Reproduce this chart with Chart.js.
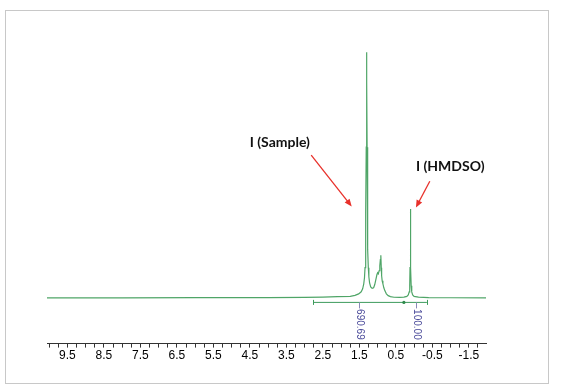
<!DOCTYPE html>
<html>
<head>
<meta charset="utf-8">
<script src="https://cdn.jsdelivr.net/npm/chart.js@4/dist/chart.umd.min.js"></script>
<style>
  html, body { margin: 0; padding: 0; background: #fff; }
  #frame { position: absolute; left: 5px; top: 10px; width: 542px; height: 372px; border: 1px solid #c8c8c8; }
  #wrap { position: absolute; left: 0; top: 0; width: 565px; height: 388px; }
</style>
</head>
<body>
<div id="frame"></div>
<div id="wrap"><canvas id="chart_nmr" width="565" height="388"></canvas></div>
<script>
// chemical shift (ppm) and intensity
const shifts = [10.06, 8.0, 6.0, 4.0, 3.0, 2.5, 2.1, 1.75, 1.62, 1.52, 1.45, 1.41, 1.38, 1.36, 1.345, 1.332, 1.322, 1.312, 1.304,
    1.300, 1.296, 1.288, 1.278, 1.268, 1.255, 1.24, 1.22, 1.19, 1.15, 1.11, 1.08, 1.05, 1.02, 1.0, 0.98, 0.96, 0.94, 0.925,
    0.912, 0.90, 0.89, 0.875, 0.855, 0.83, 0.8, 0.76, 0.71, 0.65, 0.55, 0.4, 0.28, 0.2, 0.16, 0.135, 0.12, 0.112, 0.106,
    0.10, 0.094, 0.088, 0.08, 0.065, 0.04, 0.0, -0.12, -0.4, -1.0, -1.97];
const intensity = [0, 0, 0.2, 0.3, 0.5, 0.8, 1.2, 1.5, 2.5, 4, 6, 9, 14, 20, 30, 48, 85, 150, 215,
    244.5, 215, 150, 85, 48, 30, 21, 15, 11, 9.5, 10, 13, 18, 23, 25, 24, 27, 32, 38,
    42.5, 30, 22, 17, 14, 10, 7, 4, 2.2, 1.2, 0.6, 0.5, 0.8, 1.5, 3, 6, 12, 30, 60,
    88.5, 60, 30, 12, 6, 3, 1.5, 0.7, 0.3, 0.1, 0];

// integral regions
const integralFrom = [2.77, 0.28];
const integralTo = [0.28, -0.35];
const integralAt = [1.51, -0.05];
const integralValues = ['690.69', '100.00'];
const integralLevel = -4.5;

// axis labels
const tickLabels = ['9.5', '8.5', '7.5', '6.5', '5.5', '4.5', '3.5', '2.5', '1.5', '0.5', '-0.5', '-1.5'];

// annotations: text position and arrow (from -> to), in ppm / intensity
const noteTexts = ['I (Sample)', 'I (HMDSO)'];
const noteX = [3.68, -0.99];
const noteY = [154.5, 130.5];
const arrowFrom = [[2.82, 142], [-0.43, 116]];
const arrowTo = [[1.71, 91], [-0.05, 90]];

const spectrum = shifts.map(function (s, i) { return {x: s, y: intensity[i]}; });
const integralLine = [];
integralFrom.forEach(function (f, i) {
    integralLine.push({x: f, y: integralLevel});
    integralLine.push({x: integralTo[i], y: integralLevel});
});

const extras = {
    id: 'extras',
    afterDatasetsDraw: function (chart) {
        const ctx = chart.ctx;
        const xs = chart.scales.x, ys = chart.scales.y;
        const yInt = ys.getPixelForValue(integralLevel);
        ctx.save();
        // integral end caps
        ctx.strokeStyle = '#3d9b5c';
        ctx.lineWidth = 1;
        [integralFrom[0], integralTo[integralTo.length - 1]].forEach(function (v) {
            const px = Math.round(xs.getPixelForValue(v)) + 0.5;
            ctx.beginPath();
            ctx.moveTo(px, yInt - 2.5);
            ctx.lineTo(px, yInt + 2.5);
            ctx.stroke();
        });
        ctx.fillStyle = '#2f8a4c';
        ctx.beginPath();
        ctx.arc(xs.getPixelForValue(integralTo[0]), yInt, 1.6, 0, Math.PI * 2);
        ctx.fill();
        // integral values
        integralAt.forEach(function (v, i) {
            const px = Math.round(xs.getPixelForValue(v)) + 0.5;
            ctx.strokeStyle = '#8a8ab8';
            ctx.beginPath();
            ctx.moveTo(px, yInt);
            ctx.lineTo(px, yInt + 6);
            ctx.stroke();
            ctx.save();
            ctx.translate(px, yInt + 22);
            ctx.rotate(Math.PI / 2);
            ctx.fillStyle = '#4a4a9a';
            ctx.font = '10px "Liberation Sans", Arial, sans-serif';
            ctx.textAlign = 'center';
            ctx.textBaseline = 'middle';
            ctx.fillText(integralValues[i], 0, 0);
            ctx.restore();
        });
        // labels
        ctx.fillStyle = '#111';
        ctx.font = 'bold 14px Lato, "Open Sans", sans-serif';
        ctx.textAlign = 'center';
        ctx.textBaseline = 'middle';
        noteTexts.forEach(function (t, i) {
            ctx.fillText(t, xs.getPixelForValue(noteX[i]), ys.getPixelForValue(noteY[i]));
        });
        // arrows
        ctx.strokeStyle = '#e8302a';
        ctx.fillStyle = '#e8302a';
        ctx.lineWidth = 1.3;
        arrowFrom.forEach(function (a, i) {
            const x1 = xs.getPixelForValue(a[0]), y1 = ys.getPixelForValue(a[1]);
            const x2 = xs.getPixelForValue(arrowTo[i][0]), y2 = ys.getPixelForValue(arrowTo[i][1]);
            const ang = Math.atan2(y2 - y1, x2 - x1);
            const head = 8;
            ctx.beginPath();
            ctx.moveTo(x1, y1);
            ctx.lineTo(x2 - Math.cos(ang) * head * 0.7, y2 - Math.sin(ang) * head * 0.7);
            ctx.stroke();
            ctx.beginPath();
            ctx.moveTo(x2, y2);
            ctx.lineTo(x2 - head * Math.cos(ang - 0.4), y2 - head * Math.sin(ang - 0.4));
            ctx.lineTo(x2 - head * Math.cos(ang + 0.4), y2 - head * Math.sin(ang + 0.4));
            ctx.closePath();
            ctx.fill();
        });
        ctx.restore();
    }
};

const ctx = document.getElementById('chart_nmr').getContext('2d');
const chart = new Chart(ctx, {
    type: 'line',
    data: {
        datasets: [
            {
                label: 'Spectrum',
                data: spectrum,
                borderColor: '#4fa567',
                borderWidth: 1.2,
                pointRadius: 0,
                tension: 0,
                fill: false
            },
            {
                label: 'Integral',
                data: integralLine,
                borderColor: '#3d9b5c',
                borderWidth: 1,
                pointRadius: 0,
                tension: 0,
                fill: false
            }
        ]
    },
    options: {
        responsive: false,
        animation: false,
        layout: {padding: {left: 47, right: 79, top: 20, bottom: 24}},
        plugins: {legend: {display: false}, tooltip: {enabled: false}},
        scales: {
            x: {
                type: 'linear',
                reverse: true,
                min: -1.97,
                max: 10.06,
                afterBuildTicks: function (axis) {
                    const t = [];
                    for (let v = 10.0; v >= -1.76; v -= 0.25) {
                        t.push({value: Math.round(v * 100) / 100});
                    }
                    axis.ticks = t;
                },
                grid: {drawOnChartArea: false, tickLength: 4, color: '#333'},
                border: {display: true, color: '#333', width: 1},
                ticks: {
                    autoSkip: false,
                    maxRotation: 0,
                    padding: 1,
                    color: '#000',
                    font: {family: '"Liberation Sans", Arial, sans-serif', size: 12},
                    callback: function (v) {
                        const s = (Math.round(v * 10) / 10).toFixed(1);
                        return tickLabels.indexOf(s) >= 0 && Math.abs(v * 10 - Math.round(v * 10)) < 0.01 ? s : '';
                    }
                }
            },
            y: {
                display: false,
                min: -45.5,
                max: 276.5
            }
        }
    },
    plugins: [extras]
});
</script>
</body>
</html>
